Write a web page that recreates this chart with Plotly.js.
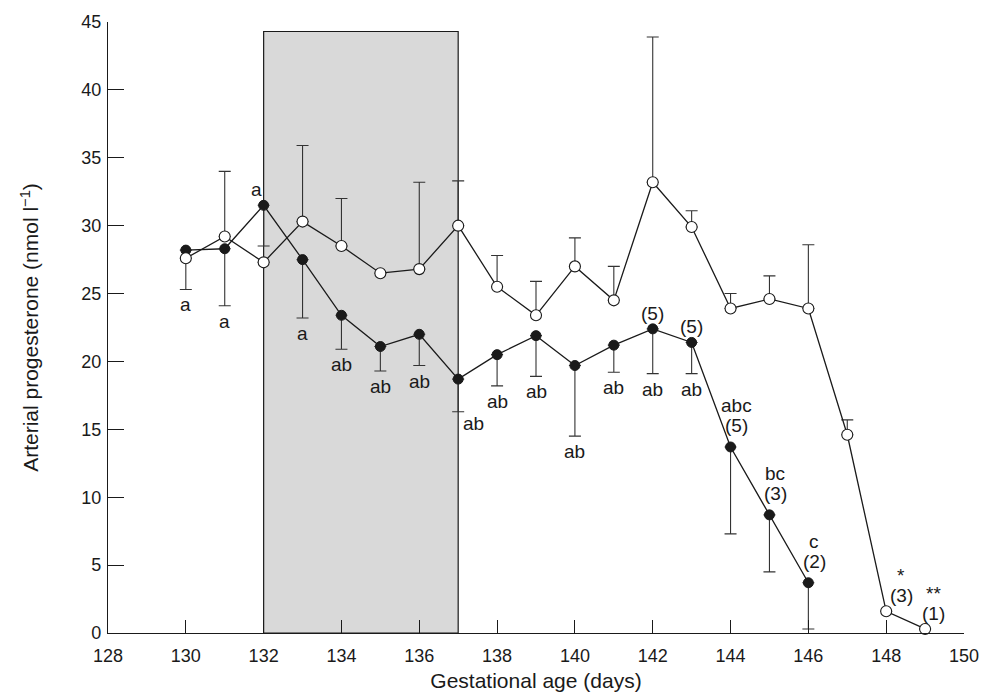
<!DOCTYPE html>
<html>
<head>
<meta charset="utf-8">
<script src="https://cdn.plot.ly/plotly-3.0.1.min.js"></script>
<style>html,body{margin:0;padding:0;background:#fff;}#chart{width:982px;height:695px;}</style>
</head>
<body>
<div id="chart"></div>
<script>
// ---- data ----
const daysFilled = [130,131,132,133,134,135,136,137,138,139,140,141,142,143,144,145,146];
const progFilled = [28.2,28.3,31.5,27.5,23.4,21.1,22.0,18.7,20.5,21.9,19.7,21.2,22.4,21.4,13.7,8.7,3.7];
const errFilled  = [2.9,4.2,3.0,4.3,2.5,1.8,2.3,2.4,2.3,3.0,5.2,2.0,3.3,2.3,6.4,4.2,3.4];
const belowFilled = ["a","a","","a","ab","ab","ab","ab","ab","ab","ab","ab","ab","ab","","",""];
const aboveFilled = ["","","a","","","","","","","","","","(5)","(5)","abc<br>(5)","bc<br>(3)","c<br>(2)"];

const daysOpen = [130,131,132,133,134,135,136,137,138,139,140,141,142,143,144,145,146,147,148,149];
const progOpen = [27.6,29.2,27.3,30.3,28.5,26.5,26.8,30.0,25.5,23.4,27.0,24.5,33.2,29.9,23.9,24.6,23.9,14.6,1.6,0.3];
const errOpen  = [0,4.8,0,5.6,3.5,0,6.4,3.3,2.3,2.5,2.1,2.5,10.7,1.2,1.1,1.7,4.7,1.1,0,0];
const aboveOpen = ["","","","","","","","","","","","","","","","","","","*<br>(3)","**<br>(1)"];

const shadeStart = 132, shadeEnd = 137, shadeTop = 44.3;

const xTicks = [128,130,132,134,136,138,140,142,144,146,148,150];
const yTicks = [0,5,10,15,20,25,30,35,40,45];

// ---- drawing ----
const FONT = "Liberation Sans, Arial, Helvetica, sans-serif";
const INK = "#1a1a1a";

const filledTrace = {
  x: daysFilled, y: progFilled, type: "scatter", mode: "lines+markers",
  line: {color: INK, width: 1.3},
  marker: {symbol: "circle", size: 10, color: INK, line: {color: INK, width: 1}},
  error_y: {type: "data", symmetric: false, array: daysFilled.map(() => 0), arrayminus: errFilled,
            color: "#333", thickness: 1.1, width: 6},
  cliponaxis: false, showlegend: false, hoverinfo: "x+y"
};
const openTrace = {
  x: daysOpen, y: progOpen, type: "scatter", mode: "lines+markers",
  line: {color: INK, width: 1.3},
  marker: {symbol: "circle", size: 11, color: "#ffffff", line: {color: INK, width: 1.1}},
  error_y: {type: "data", symmetric: false, array: errOpen, arrayminus: daysOpen.map(() => 0),
            color: "#333", thickness: 1.1, width: 6},
  cliponaxis: false, showlegend: false, hoverinfo: "x+y"
};

const annFont = {family: FONT, size: 19, color: INK};
const annotations = [];
function addAbove(x, y, t, dx, baseShift) {
  const parts = t.split("<br>");
  // last line sits closest to the point, earlier lines stack upward
  for (let k = parts.length - 1, row = 0; k >= 0; k--, row++) {
    annotations.push({x: x, y: y, xref: "x", yref: "y", text: parts[k], showarrow: false,
      yanchor: "bottom", xanchor: "center", yshift: baseShift + row * 20, xshift: dx, font: annFont});
  }
}
belowFilled.forEach((t, i) => {
  if (!t) return;
  const special = daysFilled[i] === 137;
  annotations.push({x: daysFilled[i], y: progFilled[i] - errFilled[i], xref: "x", yref: "y",
    text: t, showarrow: false, yanchor: "top", xanchor: "center",
    yshift: special ? 1 : -3, xshift: special ? 15 : 0, font: annFont});
});
aboveFilled.forEach((t, i) => {
  if (!t) return;
  const multi = t.indexOf("<br>") >= 0;
  const dx = daysFilled[i] === 132 ? -7 : (multi ? 6 : 0);
  addAbove(daysFilled[i], progFilled[i], t, dx, multi ? 9 : 3);
});
aboveOpen.forEach((t, i) => {
  if (!t) return;
  const dx = daysOpen[i] === 148 ? 15 : 8;
  addAbove(daysOpen[i], progOpen[i], t, dx, 3);
});

const layout = {
  width: 982, height: 695,
  margin: {l: 108, r: 18, t: 22, b: 62},
  paper_bgcolor: "#ffffff", plot_bgcolor: "#ffffff",
  font: {family: FONT, color: INK},
  showlegend: false,
  xaxis: {
    range: [128, 150], tickvals: xTicks, ticktext: xTicks.map(String),
    showline: true, linecolor: INK, linewidth: 1.2, showgrid: false, zeroline: false,
    ticks: "inside", ticklen: 13, tickwidth: 1.1, tickcolor: INK,
    ticklabelstandoff: 6,
    tickfont: {family: FONT, size: 18, color: INK},
    title: {text: "Gestational age (days)", font: {family: FONT, size: 21, color: INK}, standoff: 8}
  },
  yaxis: {
    range: [0, 45], tickvals: yTicks, ticktext: yTicks.map(String),
    showline: true, linecolor: INK, linewidth: 1.2, showgrid: false, zeroline: false,
    ticks: "inside", ticklen: 16, tickwidth: 1.1, tickcolor: INK,
    ticklabelstandoff: 2,
    tickfont: {family: FONT, size: 18, color: INK},
    title: {text: "Arterial progesterone (nmol l<sup>\u22121</sup>)", font: {family: FONT, size: 21, color: INK}, standoff: 36}
  },
  shapes: [{
    type: "rect", xref: "x", yref: "y", x0: shadeStart, x1: shadeEnd, y0: 0, y1: shadeTop,
    fillcolor: "#d9d9d9", line: {color: INK, width: 1.2}, layer: "below"
  }],
  annotations: annotations
};

Plotly.newPlot("chart", [filledTrace, openTrace], layout, {displayModeBar: false, staticPlot: true});
</script>
</body>
</html>
